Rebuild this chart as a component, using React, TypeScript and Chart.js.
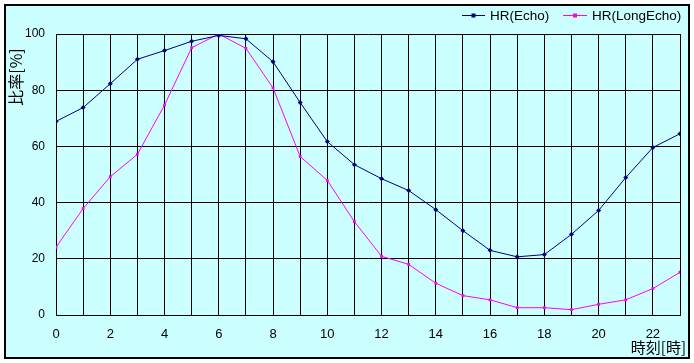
import React, { useEffect, useRef } from "react";
import { Chart, registerables } from "chart.js";

Chart.register(...registerables);

const hours: number[] = [0, 1, 2, 3, 4, 5, 6, 7, 8, 9, 10, 11, 12, 13, 14, 15, 16, 17, 18, 19, 20, 21, 22, 23];
const echo: number[] = [68.9, 73.8, 82.3, 91.0, 94.1, 97.4, 99.5, 98.3, 90.1, 75.6, 61.7, 53.5, 48.5, 44.3, 37.5, 30.0, 23.0, 20.7, 21.5, 28.7, 37.2, 48.9, 59.6, 64.5];
const longEcho: number[] = [24.1, 37.9, 49.2, 57.2, 74.7, 95.1, 100, 94.9, 80.8, 56.4, 47.9, 33.2, 20.9, 18.0, 11.3, 6.9, 5.4, 2.6, 2.6, 1.9, 3.8, 5.4, 9.4, 15.2];
const seriesNames: string[] = ["HR(Echo)", "HR(LongEcho)"];
const yTitle = "比率[%]";
const xTitle = "時刻[時]";

const NAVY = "#000080";
const MAGENTA = "#FF00FF";
const BG = "#CCFFFF";

export default function App() {
  const ref = useRef<HTMLCanvasElement>(null);
  useEffect(() => {
    document.body.style.margin = "0";
    const frame = {
      id: "frame",
      beforeDraw(chart: any) {
        const c = chart.ctx;
        c.save();
        c.fillStyle = "#ffffff";
        c.fillRect(0, 0, chart.width, chart.height);
        c.fillStyle = BG;
        c.fillRect(5, 5, 684, 353);
        c.strokeStyle = "#000";
        c.lineWidth = 2;
        c.strokeRect(5, 5, 684, 353);
        c.restore();
      },
      afterDraw(chart: any) {
        const c = chart.ctx;
        c.save();
        c.fillStyle = "#000";
        c.font = "16px 'Noto Sans CJK JP'";
        c.translate(16, 77);
        c.rotate(-Math.PI / 2);
        c.textAlign = "center";
        c.textBaseline = "middle";
        c.fillText(yTitle, 0, 0);
        c.restore();
        c.save();
        c.fillStyle = "#000";
        c.font = "15px 'Noto Sans CJK JP'";
        c.textAlign = "right";
        c.textBaseline = "middle";
        c.fillText(xTitle, 686, 347);
        const items = [
          { name: seriesNames[0], color: NAVY, x0: 462, x1: 485, tx: 490 },
          { name: seriesNames[1], color: MAGENTA, x0: 563, x1: 587, tx: 592 },
        ];
        c.font = "13.5px 'Liberation Sans'";
        c.textAlign = "left";
        for (const it of items) {
          c.strokeStyle = it.color;
          c.lineWidth = 1;
          c.beginPath();
          c.moveTo(it.x0, 15.5);
          c.lineTo(it.x1, 15.5);
          c.stroke();
          c.fillStyle = it.color;
          c.fillRect((it.x0 + it.x1) / 2 - 2, 13.5, 4, 4);
          c.fillStyle = "#000";
          c.fillText(it.name, it.tx, 16);
        }
        c.restore();
      },
    };
    const chart = new Chart(ref.current!, {
      type: "line",
      data: {
        datasets: [
          {
            label: seriesNames[0],
            data: hours.map((h, i) => ({ x: h, y: echo[i] })),
            borderColor: NAVY,
            backgroundColor: NAVY,
            borderWidth: 1,
            pointRadius: 2.5,
            pointStyle: "rectRot",
            pointBorderWidth: 0,
          },
          {
            label: seriesNames[1],
            data: hours.map((h, i) => ({ x: h, y: longEcho[i] })),
            borderColor: MAGENTA,
            backgroundColor: MAGENTA,
            borderWidth: 1,
            pointRadius: 2,
            pointStyle: "rect",
            pointBorderWidth: 0,
          },
        ],
      },
      plugins: [frame],
      options: {
        responsive: false,
        animation: false,
        layout: { padding: { left: 0, right: 14, top: 34, bottom: 0 } },
        plugins: { legend: { display: false }, tooltip: { enabled: false } },
        scales: {
          x: {
            type: "linear",
            min: 0,
            max: 23,
            afterFit: (s: any) => { s.height = 48; },
            ticks: {
              stepSize: 1,
              autoSkip: false,
              maxRotation: 0,
              color: "#000",
              font: { family: "Liberation Sans", size: 13 },
              padding: 12,
              callback: (v: any) => (Number(v) % 2 === 0 && Number(v) < 23 ? String(v) : ""),
            },
            grid: { color: "#000", lineWidth: 1, drawTicks: false },
            border: { color: "#000", width: 1 },
          },
          y: {
            min: 0,
            max: 100,
            afterFit: (s: any) => { s.width = 56; },
            ticks: {
              stepSize: 20,
              color: "#000",
              font: { family: "Liberation Sans", size: 12 },
              padding: 11,
            },
            grid: { color: "#000", lineWidth: 1, drawTicks: false },
            border: { color: "#000", width: 1 },
          },
        },
      },
    });
    return () => chart.destroy();
  }, []);
  return <canvas ref={ref} width={694} height={363} style={{ display: "block" }} />;
}
